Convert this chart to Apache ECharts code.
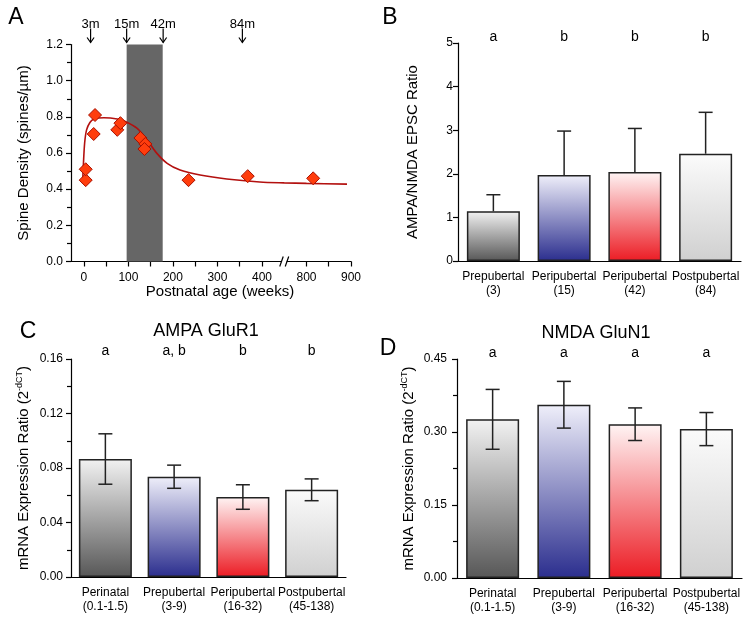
<!DOCTYPE html>
<html>
<head>
<meta charset="utf-8">
<title>Spine density and AMPA/NMDA</title>
<script src="https://cdn.jsdelivr.net/npm/echarts@6/dist/echarts.min.js"></script>
<style>
  html, body { margin: 0; background: #fff; }
  #chart { width: 751px; height: 621px; }
</style>
</head>
<body>
<div id="chart"></div>
<script>
// A: spine density vs age
var ageWeeks = [4, 4, 25, 22, 75, 82, 127, 138, 136, 235, 368, 815];
var spineDensity = [0.45, 0.51, 0.81, 0.705, 0.728, 0.765, 0.683, 0.65, 0.622, 0.45, 0.472, 0.46];
var fitWeeks = [-3, -1.4, 1.6, 6, 13.5, 22, 45, 75, 93, 119, 142, 164, 187, 216, 261, 321, 395, 450, 800, 891];
var fitDensity = [0.432, 0.524, 0.654, 0.728, 0.769, 0.787, 0.795, 0.788, 0.774, 0.737, 0.672, 0.598, 0.543, 0.506, 0.478, 0.456, 0.44, 0.435, 0.432, 0.428];
var markerLabels = ['3m', '15m', '42m', '84m'];
var markerWeeks = [15, 96, 178, 356];
var bandWeeks = [96, 177];
var tickWeeksA = [0, 50, 100, 150, 200, 250, 300, 350, 400, 800, 850, 900];
var labelWeeksA = [0, 100, 200, 300, 400, 800, 900];
var breakFrom = 450, breakTo = 750;

// B: AMPA/NMDA ratio
var stageB = ['Prepubertal\n(3)', 'Peripubertal\n(15)', 'Peripubertal\n(42)', 'Postpubertal\n(84)'];
var ratioB = [1.14, 1.97, 2.04, 2.46];
var ratioErrB = [0.38, 1.01, 1.0, 0.95];
var lettersB = ['a', 'b', 'b', 'b'];

// C, D: mRNA
var stageCD = ['Perinatal\n(0.1-1.5)', 'Prepubertal\n(3-9)', 'Peripubertal\n(16-32)', 'Postpubertal\n(45-138)'];
var gluR1 = [0.0866, 0.0736, 0.0587, 0.064];
var gluR1Err = [0.0185, 0.0085, 0.009, 0.008];
var lettersC = ['a', 'a, b', 'b', 'b'];
var gluN1 = [0.326, 0.356, 0.316, 0.306];
var gluN1Err = [0.0615, 0.048, 0.0335, 0.034];
var lettersD = ['a', 'a', 'a', 'a'];

var barFills = [['#f2f2f2', '#575757'], ['#efeffa', '#2b2e8e'], ['#fff4f4', '#ec1c24'], ['#fbfbfb', '#d0d0d0']];

var font = 'Liberation Sans, Arial, sans-serif';
var chart = echarts.init(document.getElementById('chart'));

function axisPos(w) { return w >= breakTo ? w - (breakTo - breakFrom) : w; }
function axisText(v) { return String(v > breakFrom ? v + (breakTo - breakFrom) : v); }

function fill(i) {
  return new echarts.graphic.LinearGradient(0, 0, 0, 1, [
    { offset: 0, color: barFills[i][0] },
    { offset: 1, color: barFills[i][1] }
  ]);
}

function bars(idx, values) {
  return {
    type: 'bar', xAxisIndex: idx, yAxisIndex: idx, barWidth: 53,
    itemStyle: { borderColor: '#222', borderWidth: 1.5 },
    data: values.map(function (v, i) { return { value: v, itemStyle: { color: fill(i) } }; })
  };
}

function errors(idx, values, errs, upperOnly) {
  return {
    type: 'custom', xAxisIndex: idx, yAxisIndex: idx, z: 5,
    data: values.map(function (v, i) { return [i, v, errs[i]]; }),
    renderItem: function (params, api) {
      var v = api.value(1), e = api.value(2);
      var hi = api.coord([api.value(0), v + e]);
      var lo = api.coord([api.value(0), upperOnly ? v : v - e]);
      var st = { stroke: '#222', lineWidth: 1.5 };
      var kids = [
        { type: 'line', shape: { x1: hi[0], y1: hi[1], x2: lo[0], y2: lo[1] }, style: st },
        { type: 'line', shape: { x1: hi[0] - 7, y1: hi[1], x2: hi[0] + 7, y2: hi[1] }, style: st }
      ];
      if (!upperOnly) {
        kids.push({ type: 'line', shape: { x1: lo[0] - 7, y1: lo[1], x2: lo[0] + 7, y2: lo[1] }, style: st });
      }
      return { type: 'group', children: kids };
    }
  };
}

function letters(idx, texts, off) {
  return {
    type: 'custom', xAxisIndex: idx, yAxisIndex: idx,
    data: texts.map(function (t, i) { return [i, 0]; }),
    renderItem: function (params, api) {
      var x = api.coord([api.value(0), 0])[0];
      return {
        type: 'text', x: x, y: params.coordSys.y - off,
        style: { text: texts[params.dataIndex], align: 'center', verticalAlign: 'middle', textAlign: 'center', textVerticalAlign: 'middle', font: '14px ' + font, fill: '#000' }
      };
    }
  };
}

var black = { color: '#000', width: 1.2 };

function catAxis(idx, cats) {
  return {
    gridIndex: idx, type: 'category', data: cats,
    axisLine: { show: true, lineStyle: black },
    axisTick: { show: false },
    axisLabel: { interval: 0, color: '#000', fontSize: 12, lineHeight: 14.5, margin: 8 }
  };
}

function valAxis(idx, max, step, digits, name, gap, margin) {
  return {
    gridIndex: idx, type: 'value', min: 0, max: max, interval: step,
    axisLine: { show: true, onZero: false, lineStyle: black },
    axisTick: { show: true, length: 5, lineStyle: black },
    minorTick: { show: digits > 0, splitNumber: 2, length: 4, lineStyle: black },
    splitLine: { show: false },
    axisLabel: { color: '#000', fontSize: 12, margin: margin, formatter: function (v) { return v.toFixed(digits); } },
    name: name, nameLocation: 'middle', nameGap: gap, nameMoveOverlap: false,
    nameTextStyle: {
      color: '#000', fontSize: 15,
      rich: { s: { fontSize: 9, verticalAlign: 'top', lineHeight: 18 }, n: { fontSize: 15, lineHeight: 18 } }
    }
  };
}

var mrnaName = '{n|mRNA Expression Ratio (2}{s|-dCT}{n|)}';

var option = {
  animation: false,
  textStyle: { fontFamily: font },
  grid: [
    { left: 71, top: 44.5, width: 280, height: 217 },
    { left: 458, top: 43, width: 283, height: 218 },
    { left: 71, top: 359, width: 275, height: 218 },
    { left: 457, top: 359, width: 285, height: 219 }
  ],
  xAxis: [
    {
      gridIndex: 0, type: 'value', min: -29, max: 600,
      axisLine: { show: true, onZero: false, lineStyle: black },
      axisTick: { show: true, length: 5, lineStyle: black, customValues: tickWeeksA.map(axisPos) },
      axisLabel: { color: '#000', fontSize: 12, margin: 10, customValues: labelWeeksA.map(axisPos), formatter: axisText },
      splitLine: { show: false },
      name: 'Postnatal age (weeks)', nameLocation: 'middle', nameGap: 23, nameMoveOverlap: false,
      nameTextStyle: { color: '#000', fontSize: 15, verticalAlign: 'top', padding: [0, 0, 0, 18] }
    },
    catAxis(1, stageB),
    catAxis(2, stageCD),
    catAxis(3, stageCD)
  ],
  yAxis: [
    valAxis(0, 1.2, 0.2, 1, 'Spine Density (spines/\u00b5m)', 40, 8),
    valAxis(1, 5, 1, 0, 'AMPA/NMDA EPSC Ratio', 38, 5),
    valAxis(2, 0.16, 0.04, 2, mrnaName, 38, 8),
    valAxis(3, 0.45, 0.15, 2, mrnaName, 39, 10)
  ],
  graphic: [
    { type: 'text', x: 16, y: 17.5, style: { text: 'A', font: '23px ' + font, fill: '#000', align: 'center', verticalAlign: 'middle', textAlign: 'center', textVerticalAlign: 'middle' } },
    { type: 'text', x: 390, y: 17.5, style: { text: 'B', font: '23px ' + font, fill: '#000', align: 'center', verticalAlign: 'middle', textAlign: 'center', textVerticalAlign: 'middle' } },
    { type: 'text', x: 28, y: 331.5, style: { text: 'C', font: '23px ' + font, fill: '#000', align: 'center', verticalAlign: 'middle', textAlign: 'center', textVerticalAlign: 'middle' } },
    { type: 'text', x: 388, y: 349, style: { text: 'D', font: '23px ' + font, fill: '#000', align: 'center', verticalAlign: 'middle', textAlign: 'center', textVerticalAlign: 'middle' } },
    { type: 'text', x: 206, y: 331, style: { text: 'AMPA GluR1', font: '18px ' + font, fill: '#000', align: 'center', verticalAlign: 'middle', textAlign: 'center', textVerticalAlign: 'middle' } },
    { type: 'text', x: 596, y: 333, style: { text: 'NMDA GluN1', font: '18px ' + font, fill: '#000', align: 'center', verticalAlign: 'middle', textAlign: 'center', textVerticalAlign: 'middle' } }
  ],
  series: [
    {
      type: 'line', xAxisIndex: 0, yAxisIndex: 0, smooth: 0.3, showSymbol: false,
      lineStyle: { color: '#b3100f', width: 1.6 },
      data: fitWeeks.map(function (w, i) { return [axisPos(w), fitDensity[i]]; }),
      markArea: {
        silent: true,
        itemStyle: { color: '#666666' },
        data: [[{ xAxis: axisPos(bandWeeks[0]) }, { xAxis: axisPos(bandWeeks[1]) }]]
      }
    },
    {
      type: 'scatter', xAxisIndex: 0, yAxisIndex: 0, z: 4,
      symbol: 'diamond', symbolSize: 13,
      itemStyle: { color: '#ff3d0d', borderColor: '#a81000', borderWidth: 1, opacity: 1 },
      data: ageWeeks.map(function (w, i) { return [axisPos(w), spineDensity[i]]; })
    },
    {
      // age arrows above panel A
      type: 'custom', xAxisIndex: 0, yAxisIndex: 0,
      data: markerWeeks.map(function (w) { return [axisPos(w), 0]; }),
      renderItem: function (params, api) {
        var x = api.coord([api.value(0), 0])[0];
        var top = params.coordSys.y;
        var st = { stroke: '#000', lineWidth: 1.2, fill: null };
        return {
          type: 'group', children: [
            { type: 'line', shape: { x1: x, y1: top - 16, x2: x, y2: top - 2 }, style: st },
            { type: 'polyline', shape: { points: [[x - 3.5, top - 7], [x, top - 2], [x + 3.5, top - 7]] }, style: st },
            { type: 'text', x: x, y: top - 20.5, style: { text: markerLabels[params.dataIndex], font: '13px ' + font, fill: '#000', align: 'center', verticalAlign: 'middle', textAlign: 'center', textVerticalAlign: 'middle' } }
          ]
        };
      }
    },
    {
      // axis break mark
      type: 'custom', xAxisIndex: 0, yAxisIndex: 0, z: 6,
      data: [[breakFrom, 0]],
      renderItem: function (params, api) {
        var x = api.coord([api.value(0), 0])[0];
        var y = params.coordSys.y + params.coordSys.height;
        var st = { stroke: '#000', lineWidth: 1.2 };
        return {
          type: 'group', children: [
            { type: 'rect', shape: { x: x - 2.5, y: y - 2, width: 5, height: 4 }, style: { fill: '#fff' } },
            { type: 'line', shape: { x1: x - 4.5, y1: y + 5, x2: x - 1, y2: y - 5 }, style: st },
            { type: 'line', shape: { x1: x + 1, y1: y + 5, x2: x + 4.5, y2: y - 5 }, style: st }
          ]
        };
      }
    },
    bars(1, ratioB),
    errors(1, ratioB, ratioErrB, true),
    letters(1, lettersB, 6),
    bars(2, gluR1),
    errors(2, gluR1, gluR1Err, false),
    letters(2, lettersC, 8),
    bars(3, gluN1),
    errors(3, gluN1, gluN1Err, false),
    letters(3, lettersD, 6)
  ]
};

chart.setOption(option);
</script>
</body>
</html>
